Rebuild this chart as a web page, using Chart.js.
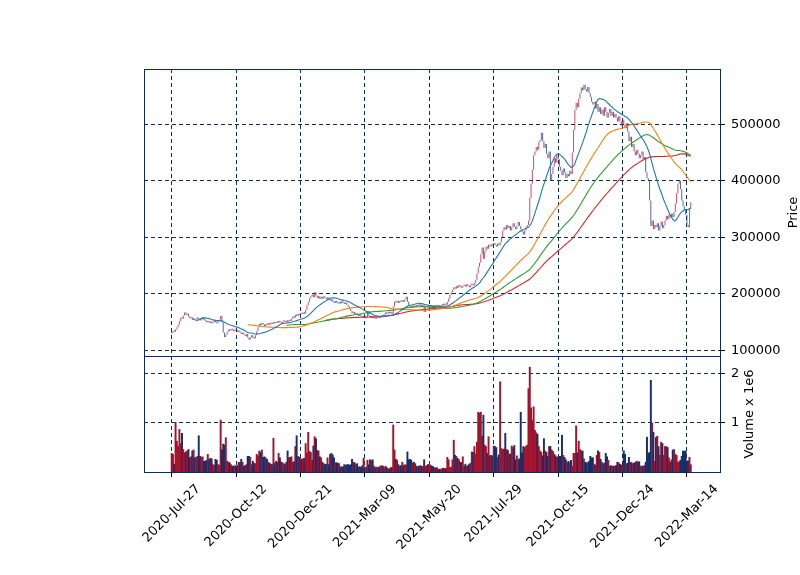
<!DOCTYPE html>
<html>
<head>
<meta charset="utf-8">
<title>Price and volume</title>
<script src="https://cdn.jsdelivr.net/npm/chart.js@4.4.1/dist/chart.umd.min.js"></script>
<style>
  body { margin: 0; background: #fff; }
  #wrap { position: relative; width: 800px; height: 575px; }
  #wrap canvas { position: absolute; left: 0; top: 0; }
</style>
</head>
<body>
<div id="wrap">
  <canvas id="volumeChart" width="800" height="575"></canvas>
  <canvas id="priceChart" width="800" height="575"></canvas>
</div>
<script>
// date labels, one every 50 trading days
var tickLabels = ['2020-Jul-27', '2020-Oct-12', '2020-Dec-21', '2021-Mar-09', '2021-May-20',
    '2021-Jul-29', '2021-Oct-15', '2021-Dec-24', '2022-Mar-14'];
var tickEvery = 50;

var priceTicks = [100000, 200000, 300000, 400000, 500000];
var volumeTicks = [1000000, 2000000];

var firstOpen = 130000;

// daily closes, in thousands
var closeThousands = [
    131, 134, 133, 137, 141, 146, 152, 158, 156, 162,
    167, 163, 165, 160, 157, 159, 154, 157, 153, 156,
    158, 155, 153, 156, 158, 154, 152, 150, 152, 149,
    151, 148, 150, 153, 150, 148, 152, 155, 161, 150,
    132, 124, 128, 133, 137, 135, 138, 136, 134, 137,
    135, 133, 135, 132, 129, 131, 128, 125, 129, 123,
    119, 124, 127, 122, 121, 127, 134, 141, 147, 145,
    148, 146, 143, 147, 145, 148, 146, 149, 147, 150,
    148, 151, 149, 152, 150, 148, 151, 153, 150, 152,
    151, 154, 152, 156, 160, 158, 163, 161, 165, 162,
    166, 164, 167, 165, 172, 180, 186, 192, 196, 199,
    194, 203, 197, 193, 196, 191, 195, 192, 196, 193,
    190, 194, 191, 188, 190, 186, 184, 188, 185, 183,
    186, 183, 187, 184, 182, 185, 181, 178, 174, 170,
    166, 168, 164, 166, 163, 161, 164, 160, 158, 161,
    157, 159, 170, 162, 158, 160, 157, 159, 156, 158,
    160, 157, 159, 162, 160, 164, 167, 165, 168, 166,
    168, 165, 178, 186, 185, 188, 184, 187, 186, 189,
    186, 190, 195, 186, 180, 178, 176, 179, 177, 180,
    178, 181, 179, 180, 178, 181, 168, 177, 179, 177,
    178, 180, 178, 177, 179, 178, 180, 178, 177, 179,
    181, 180, 182, 181, 186, 192, 198, 203, 207, 212,
    209, 214, 211, 216, 213, 211, 214, 216, 213, 217,
    214, 212, 216, 218, 215, 219, 225, 236, 248, 255,
    270, 282, 262, 275, 284, 280, 287, 284, 288, 285,
    290, 287, 284, 289, 286, 292, 300, 312, 318, 314,
    322, 316, 320, 312, 318, 325, 319, 315, 321, 327,
    320, 314, 310, 305, 312, 318, 322, 330, 370, 395,
    420, 445, 452, 460, 455, 468, 472, 485, 470, 458,
    465, 448, 440, 452, 400, 412, 425, 440, 432, 445,
    438, 425, 418, 410, 422, 415, 405, 412, 408, 418,
    412, 450, 490, 525, 538, 530, 545, 555, 565, 560,
    570, 562, 558, 566, 555, 548, 540, 535, 540, 528,
    536, 522, 530, 518, 526, 515, 530, 522, 512, 520,
    527, 515, 522, 512, 518, 512, 505, 514, 506, 498,
    508, 500, 493, 502, 487, 470, 478, 460, 465, 452,
    445, 455, 448, 440, 445, 452, 438, 442, 415, 405,
    400, 365, 320, 330, 315, 322, 318, 325, 312, 320,
    328, 316, 322, 330, 338, 332, 340, 335, 342, 336,
    345, 360, 378, 395, 400, 385, 365, 355, 348, 340,
    322, 318, 350, 362
];

// daily volume, in millions of shares
var volumeMillions = [
    0.38, 0.36, 0.16, 1.01, 0.63, 0.52, 0.87, 0.58, 0.79, 0.46,
    0.39, 0.41, 0.43, 0.46, 0.29, 0.31, 0.43, 0.45, 0.29, 0.30,
    0.32, 0.74, 0.32, 0.30, 0.31, 0.22, 0.22, 0.24, 0.36, 0.26,
    0.28, 0.27, 0.15, 0.14, 0.26, 0.24, 0.15, 0.14, 1.06, 0.45,
    0.57, 0.55, 0.70, 0.22, 0.20, 0.19, 0.15, 0.12, 0.12, 0.13,
    0.12, 0.13, 0.20, 0.19, 0.26, 0.20, 0.12, 0.13, 0.15, 0.32,
    0.32, 0.30, 0.15, 0.22, 0.18, 0.17, 0.36, 0.33, 0.43, 0.40,
    0.45, 0.30, 0.31, 0.29, 0.26, 0.20, 0.18, 0.16, 0.15, 0.69,
    0.18, 0.22, 0.20, 0.38, 0.29, 0.20, 0.19, 0.17, 0.15, 0.20,
    0.43, 0.29, 0.30, 0.31, 0.20, 0.21, 0.52, 0.74, 0.32, 0.30,
    0.27, 0.26, 0.27, 0.28, 0.58, 0.39, 0.81, 0.42, 0.40, 0.24,
    0.53, 0.72, 0.68, 0.44, 0.43, 0.31, 0.29, 0.20, 0.17, 0.15,
    0.16, 0.29, 0.15, 0.36, 0.38, 0.35, 0.29, 0.19, 0.19, 0.18,
    0.17, 0.10, 0.11, 0.10, 0.15, 0.14, 0.15, 0.15, 0.14, 0.15,
    0.26, 0.20, 0.19, 0.15, 0.17, 0.10, 0.11, 0.09, 0.13, 0.28,
    0.09, 0.10, 0.24, 0.15, 0.25, 0.23, 0.25, 0.12, 0.09, 0.10,
    0.09, 0.10, 0.12, 0.13, 0.12, 0.09, 0.12, 0.09, 0.06, 0.07,
    0.09, 0.09, 0.96, 0.45, 0.26, 0.24, 0.15, 0.12, 0.13, 0.20,
    0.13, 0.15, 0.14, 0.41, 0.25, 0.26, 0.24, 0.18, 0.20, 0.17,
    0.12, 0.11, 0.12, 0.13, 0.12, 0.11, 0.25, 0.12, 0.13, 0.15,
    0.15, 0.14, 0.12, 0.11, 0.09, 0.08, 0.09, 0.05, 0.06, 0.05,
    0.07, 0.08, 0.07, 0.07, 0.30, 0.25, 0.09, 0.10, 0.25, 0.65,
    0.34, 0.32, 0.28, 0.25, 0.20, 0.19, 0.31, 0.12, 0.16, 0.12,
    0.13, 0.16, 0.18, 0.41, 0.40, 0.52, 0.37, 0.61, 1.22, 1.20,
    1.22, 0.73, 1.16, 0.55, 0.52, 0.38, 0.72, 0.33, 0.34, 0.33,
    0.53, 0.52, 0.50, 0.30, 0.35, 1.84, 0.48, 0.46, 0.47, 0.79,
    0.46, 0.44, 0.36, 0.37, 0.53, 0.50, 0.54, 0.25, 0.33, 0.25,
    0.27, 1.22, 0.39, 0.52, 0.50, 0.52, 0.55, 1.70, 2.14, 1.31,
    1.05, 1.33, 0.85, 0.80, 0.77, 0.52, 0.43, 0.40, 0.33, 0.68,
    0.43, 0.40, 0.32, 0.52, 0.52, 0.45, 0.42, 0.36, 0.33, 0.30,
    0.31, 0.32, 0.32, 0.75, 0.34, 0.30, 0.25, 0.19, 0.22, 0.19,
    0.24, 0.12, 0.38, 0.38, 0.94, 0.39, 0.63, 0.46, 0.43, 0.43,
    0.27, 0.20, 0.19, 0.19, 0.22, 0.32, 0.29, 0.29, 0.16, 0.14,
    0.34, 0.43, 0.40, 0.26, 0.20, 0.17, 0.18, 0.38, 0.31, 0.24,
    0.12, 0.13, 0.12, 0.12, 0.12, 0.13, 0.20, 0.19, 0.16, 0.14,
    0.15, 0.43, 0.36, 0.17, 0.18, 0.30, 0.20, 0.19, 0.17, 0.18,
    0.20, 0.22, 0.20, 0.21, 0.12, 0.12, 0.12, 0.13, 0.20, 0.71,
    0.38, 0.40, 1.87, 1.00, 0.81, 0.22, 0.70, 0.73, 0.52, 0.34,
    0.61, 0.58, 0.34, 0.52, 0.52, 0.50, 0.29, 0.20, 0.25, 0.45,
    0.46, 0.36, 0.34, 0.20, 0.21, 0.24, 0.32, 0.43, 0.42, 0.43,
    0.22, 0.23, 0.30, 0.15
];

var mavWindows = [20, 60, 90, 120];
var mavColors = ['#1f77b4', '#ff7f0e', '#2ca02c', '#d62728'];

var UP = '#a3132c';
var DOWN = '#142f6b';
var CANDLE_UP = 'rgba(180, 30, 60, 0.8)';
var CANDLE_DOWN = 'rgba(35, 65, 130, 0.8)';
var GRID = '#0b2a6c';
var FONT = '13px "DejaVu Sans"';

var X_MIN = -21.5, X_MAX = 425.7;

Chart.defaults.font.family = '"DejaVu Sans"';
Chart.defaults.font.size = 13;
Chart.defaults.color = '#000';

var closes = closeThousands.map(function (v) { return v * 1000; });
var opens = closes.map(function (c, i) { return i === 0 ? firstOpen : closes[i - 1]; });
var isUp = closes.map(function (c, i) { return c >= opens[i]; });

function movingAverage(values, n) {
    var out = [];
    for (var i = n - 1; i < values.length; i++) {
        var s = 0;
        for (var k = i - n + 1; k <= i; k++) s += values[k];
        out.push({ x: i, y: s / n });
    }
    return out;
}

// frame round the plot area, rotated axis title, and date labels
var panelPlugin = {
    id: 'panel',
    afterDraw: function (chart, args, opts) {
        var ctx = chart.ctx, a = chart.chartArea;
        ctx.save();
        ctx.strokeStyle = GRID;
        ctx.lineWidth = 1;
        ctx.strokeRect(Math.round(a.left) + 0.5, Math.round(a.top) + 0.5,
            Math.round(a.right - a.left), Math.round(a.bottom - a.top));
        ctx.fillStyle = '#000';
        ctx.font = FONT;
        ctx.textAlign = 'center';
        ctx.textBaseline = 'middle';
        ctx.save();
        ctx.translate(opts.titleX, (a.top + a.bottom) / 2);
        ctx.rotate(-Math.PI / 2);
        ctx.fillText(opts.title, 0, 0);
        ctx.restore();
        if (opts.dateLabels) {
            var xs = chart.scales.x;
            tickLabels.forEach(function (label, k) {
                var px = xs.getPixelForValue(k * tickEvery);
                var w = ctx.measureText(label).width;
                var cy = a.bottom + 10 + (w + 14) * Math.SQRT1_2 / 2;
                ctx.save();
                ctx.translate(px, cy);
                ctx.rotate(-Math.PI / 4);
                ctx.fillText(label, 0, 0);
                ctx.restore();
            });
        }
        ctx.restore();
    }
};

function xScale(showTicks, height) {
    return {
        type: 'linear',
        min: X_MIN,
        max: X_MAX,
        offset: false,
        afterBuildTicks: function (s) {
            s.ticks = tickLabels.map(function (t, k) { return { value: k * tickEvery }; });
        },
        afterFit: function (s) { s.height = height; },
        ticks: { display: false },
        grid: {
            offset: false,
            color: GRID,
            lineWidth: 1,
            drawTicks: showTicks,
            tickLength: 5,
            tickColor: '#000',
            tickBorderDash: []
        },
        border: { display: false, dash: [4, 3] }
    };
}

function yScale(min, max, ticks, fmt) {
    return {
        position: 'right',
        min: min,
        max: max,
        afterBuildTicks: function (s) {
            s.ticks = ticks.map(function (v) { return { value: v }; });
        },
        afterFit: function (s) { s.width = 80; },
        ticks: { padding: 6, callback: fmt },
        grid: {
            color: GRID,
            lineWidth: 1,
            tickLength: 5,
            tickColor: '#000',
            tickBorderDash: []
        },
        border: { display: false, dash: [4, 3] }
    };
}

var priceDatasets = mavWindows.map(function (n, k) {
    return {
        type: 'line',
        data: movingAverage(closes, n),
        borderColor: mavColors[k],
        borderWidth: 1.1,
        pointRadius: 0,
        fill: false,
        order: 1
    };
});
priceDatasets.push({
    type: 'bar',
    data: closes.map(function (c, i) { return { x: i, y: [opens[i], c] }; }),
    backgroundColor: isUp.map(function (u) { return u ? CANDLE_UP : CANDLE_DOWN; }),
    categoryPercentage: 1,
    barPercentage: 0.75,
    minBarLength: 1.5,
    grouped: false,
    order: 10
});

new Chart(document.getElementById('priceChart'), {
    type: 'bar',
    data: { datasets: priceDatasets },
    options: {
        responsive: false,
        animation: false,
        layout: { padding: { left: 144, top: 69, right: 0, bottom: 219 } },
        plugins: {
            legend: { display: false },
            tooltip: { enabled: false },
            panel: { title: 'Price', titleX: 794 }
        },
        scales: {
            x: xScale(false, 0),
            y: yScale(90280, 597700, priceTicks, function (v) { return String(v); })
        }
    },
    plugins: [panelPlugin]
});

new Chart(document.getElementById('volumeChart'), {
    type: 'bar',
    data: {
        datasets: [{
            data: volumeMillions.map(function (v, i) { return { x: i, y: v * 1e6 }; }),
            backgroundColor: isUp.map(function (u) { return u ? UP : DOWN; }),
            categoryPercentage: 1,
            barPercentage: 1
        }]
    },
    options: {
        responsive: false,
        animation: false,
        layout: { padding: { left: 144, top: 356, right: 0, bottom: 0 } },
        plugins: {
            legend: { display: false },
            tooltip: { enabled: false },
            panel: { title: 'Volume x 1e6', titleX: 750, dateLabels: true }
        },
        scales: {
            x: xScale(true, 103),
            y: yScale(0, 2367000, volumeTicks, function (v) { return String(v / 1e6); })
        }
    },
    plugins: [panelPlugin]
});
</script>
</body>
</html>
